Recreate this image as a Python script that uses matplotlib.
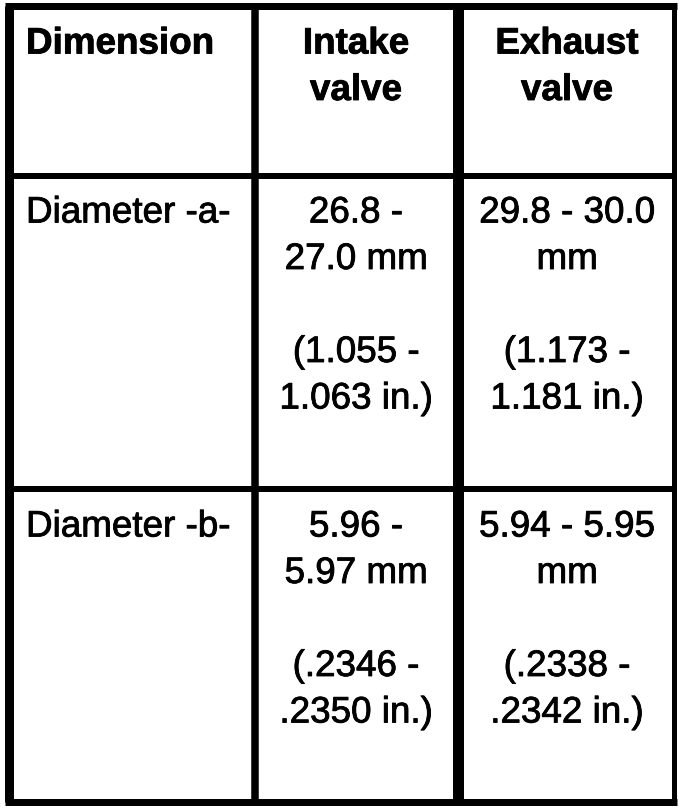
import matplotlib.pyplot as plt
import matplotlib.patheffects as pe

# table content
headers = ["Dimension", "Intake\nvalve", "Exhaust\nvalve"]
dims = ["Diameter -a-", "Diameter -b-"]
intake_mm = ["26.8 -\n27.0 mm", "5.96 -\n5.97 mm"]
intake_in = ["(1.055 -\n1.063 in.)", "(.2346 -\n.2350 in.)"]
exhaust_mm = ["29.8 - 30.0\nmm", "5.94 - 5.95\nmm"]
exhaust_in = ["(1.173 -\n1.181 in.)", "(.2338 -\n.2342 in.)"]

# layout in pixels (y grows downward)
col_lines = [9, 254.5, 457.5, 674]
col_widths = [9, 7.5, 11, 5]
row_lines = [5.5, 175.5, 489, 801.5]
row_widths = [7, 6, 6, 7]
row_tops = [9, 178, 492]
col_centers = [None, 356, 567]
left_x = 26
pitch = 46.5
first_base = 44.5
fs = 26.5

plt.rcParams['font.family'] = ['Liberation Sans', 'DejaVu Sans']
fig = plt.figure(figsize=(6.88, 8.10), dpi=100)
ax = fig.add_axes([0, 0, 1, 1])
ax.set_xlim(0, 688)
ax.set_ylim(810, 0)
ax.axis('off')

px = 0.72  # points per pixel at dpi 100
for x, w in zip(col_lines, col_widths):
    ax.plot([x, x], [row_lines[0], row_lines[-1]], color='black', lw=w * px,
            solid_capstyle='butt')
for y, w in zip(row_lines, row_widths):
    ax.plot([col_lines[0] - col_widths[0] / 2, col_lines[-1] + col_widths[-1] / 2], [y, y],
            color='black', lw=w * px, solid_capstyle='butt')

# scanned look: slightly heavier strokes
thick = [pe.withStroke(linewidth=0.6, foreground='black')]


def put_cell(text, row, col, bold=False):
    lines = text.split("\n")
    for i, line in enumerate(lines):
        if not line:
            continue
        y = row_tops[row] + first_base + i * pitch
        if col == 0:
            x, ha = left_x, 'left'
        else:
            x, ha = col_centers[col], 'center'
        ax.text(x, y, line, ha=ha, va='baseline', fontsize=fs,
                fontweight='bold' if bold else 'normal', path_effects=thick)


for c, h in enumerate(headers):
    put_cell(h, 0, c, bold=True)

for r in range(len(dims)):
    put_cell(dims[r], r + 1, 0)
    put_cell(intake_mm[r] + "\n\n" + intake_in[r], r + 1, 1)
    put_cell(exhaust_mm[r] + "\n\n" + exhaust_in[r], r + 1, 2)

fig.savefig('out.png', dpi=100)
